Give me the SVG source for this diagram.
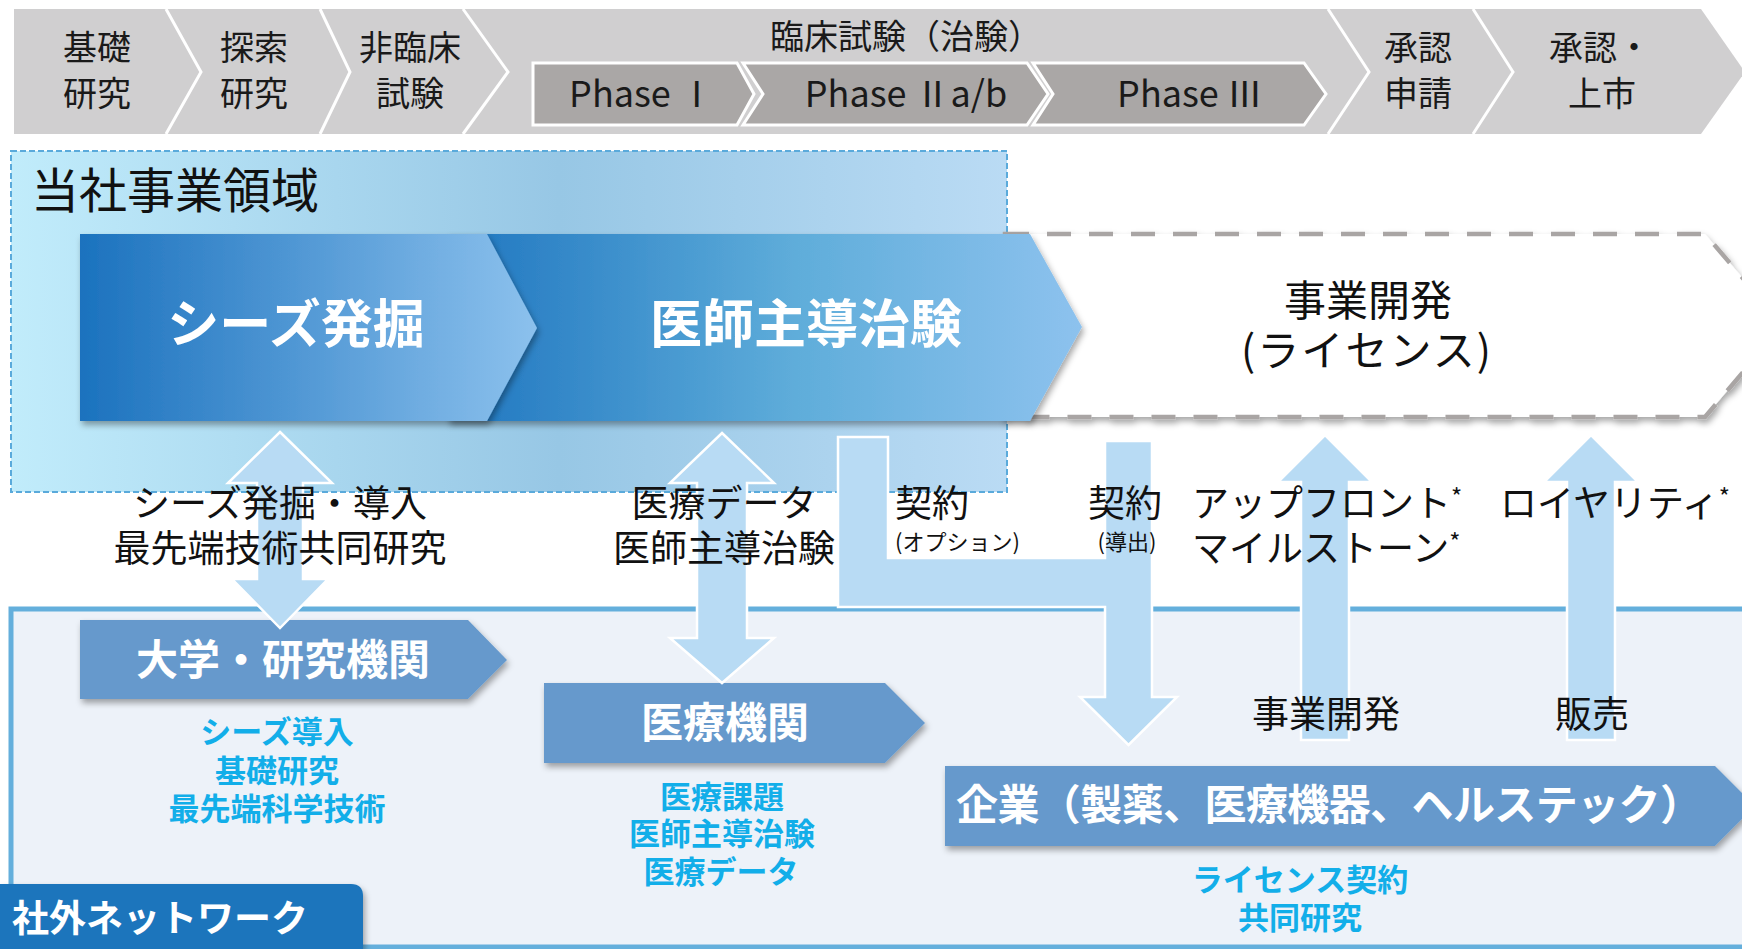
<svg xmlns="http://www.w3.org/2000/svg" width="1742" height="949" viewBox="0 0 1742 949">
<defs>
<style>
text{font-family:"Noto Sans CJK JP","Noto Sans",sans-serif;}
.bn{font-size:34px;fill:#1a1a1a;text-anchor:middle}
.ph{font-size:36px;fill:#1a1a1a;text-anchor:middle}
.phbox{fill:#aaa7a6;stroke:#fff;stroke-width:3}
.seam{fill:none;stroke:#fff;stroke-width:3}
.big{font-size:52px;font-weight:700;fill:#fff;text-anchor:middle}
.lbl{font-size:37px;fill:#111;text-anchor:middle}
.lbls{font-size:37px;fill:#111}
.sm{font-size:22px}
.node{fill:#6699cc}
.nt{font-size:42px;font-weight:700;fill:#fff;text-anchor:middle}
.cy{font-size:31px;font-weight:700;fill:#12aee9;text-anchor:middle}
.conn{fill:#b8dbf4;stroke:#fff;stroke-width:2.5}
</style>
<linearGradient id="gArea" x1="0" x2="1" y1="0" y2="0">
<stop offset="0" stop-color="#c1ecfb"/>
<stop offset="0.55" stop-color="#97c7e5"/>
<stop offset="1" stop-color="#badbf4"/>
</linearGradient>
<linearGradient id="gA1" x1="0" x2="1" y1="0" y2="0">
<stop offset="0" stop-color="#1b72be"/>
<stop offset="1" stop-color="#8cc1ed"/>
</linearGradient>
<linearGradient id="gA2" x1="0" x2="1" y1="0" y2="0">
<stop offset="0" stop-color="#1f76c0"/>
<stop offset="0.55" stop-color="#5fadda"/>
<stop offset="1" stop-color="#8dc2ee"/>
</linearGradient>
<filter id="sh" x="-5%" y="-10%" width="110%" height="135%">
<feDropShadow dx="2" dy="4" stdDeviation="3" flood-color="#000" flood-opacity="0.35"/>
</filter>
</defs>
<rect width="1742" height="949" fill="#fff"/>

<g id="banner">
<polygon points="14,9 1701,9 1745,72 1701,134 14,134" fill="#d0cfd0"/>
<polyline class="seam" points="166,9 201,72 166,134"/>
<polyline class="seam" points="320,9 350,72 320,134"/>
<polyline class="seam" points="463,9 508,72 463,134"/>
<polyline class="seam" points="1328,9 1369,72 1328,134"/>
<polyline class="seam" points="1473,9 1513,72 1473,134"/>
<text class="bn" x="97" y="60">基礎</text><text class="bn" x="97" y="106">研究</text>
<text class="bn" x="254" y="60">探索</text><text class="bn" x="254" y="106">研究</text>
<text class="bn" x="410" y="60">非臨床</text><text class="bn" x="410" y="106">試験</text>
<text class="bn" x="906" y="49">臨床試験（治験）</text>
<text class="bn" x="1418" y="60">承認</text><text class="bn" x="1418" y="106">申請</text>
<text class="bn" x="1600" y="60">承認・</text><text class="bn" x="1602" y="106">上市</text>
</g>
<g id="phase1">
<polygon class="phbox" points="533,63 737,63 754,94 737,125 533,125"/>
<text class="ph" x="642" y="107">Phase Ⅰ</text>
</g>
<g id="phase2">
<polygon class="phbox" points="743,63 1027,63 1048,94 1027,125 743,125 763,94"/>
<text class="ph" x="906" y="107">Phase Ⅱa/b</text>
</g>
<g id="phase3">
<polygon class="phbox" points="1033,63 1304,63 1326,94 1304,125 1033,125 1053,94"/>
<text class="ph" x="1190" y="107">Phase Ⅲ</text>
</g>

<g id="own-area">
<rect x="11" y="151" width="996" height="341" fill="url(#gArea)" stroke="#5aaadb" stroke-width="2" stroke-dasharray="6 3"/>
<text x="31" y="208" font-size="48" fill="#111">当社事業領域</text>
</g>

<g id="external-network">
<rect x="11" y="609" width="1740" height="338" fill="#edf2f9" stroke="#64afdc" stroke-width="5"/>
</g>

<g id="business-dev">
<polygon points="1005,234 1705,234 1783,325 1705,417 1005,417" fill="#fff" stroke="#a9a5a4" stroke-width="4.5" stroke-dasharray="24 18" filter="url(#sh)"/>
<text x="1368" y="316" font-size="42" fill="#111" text-anchor="middle">事業開発</text>
<text x="1366" y="366" font-size="42" fill="#111" text-anchor="middle" textLength="250" lengthAdjust="spacing">(ライセンス)</text>
</g>
<g id="doctor-trial">
<polygon points="448,234 1030,234 1082,327 1030,421 448,421" fill="url(#gA2)" filter="url(#sh)"/>
<text class="big" x="806" y="343">医師主導治験</text>
</g>
<g id="seeds">
<polygon points="80,234 487,234 537,328 487,421 80,421" fill="url(#gA1)" filter="url(#sh)"/>
<text class="big" x="296" y="343">シーズ発掘</text>
</g>

<g id="university">
<polygon class="node" points="80,620 468,620 507,660 468,699 80,699" filter="url(#sh)"/>
<text class="nt" x="283" y="675">大学・研究機関</text>
<text class="cy" x="277" y="743">シーズ導入</text>
<text class="cy" x="277" y="782">基礎研究</text>
<text class="cy" x="277" y="820">最先端科学技術</text>
</g>
<g id="medical">
<polygon class="node" points="544,683 885,683 925,723 885,763 544,763" filter="url(#sh)"/>
<text class="nt" x="725" y="738">医療機関</text>
<text class="cy" x="722" y="808">医療課題</text>
<text class="cy" x="722" y="845">医師主導治験</text>
<text class="cy" x="721" y="883">医療データ</text>
</g>
<g id="company">
<polygon class="node" points="945,766 1715,766 1755,806 1715,846 945,846" filter="url(#sh)"/>
<text x="956" y="820" font-size="42" font-weight="700" fill="#fff" textLength="746" lengthAdjust="spacing">企業（製薬、医療機器、ヘルステック）</text>
<text class="cy" x="1300" y="891">ライセンス契約</text>
<text class="cy" x="1300" y="929">共同研究</text>
</g>
<g id="network-tab">
<path d="M0,884 H351 Q363,884 363,896 V949 H0 Z" fill="#1b75bc" filter="url(#sh)"/>
<text x="12" y="932" font-size="37" font-weight="700" fill="#fff">社外ネットワーク</text>
</g>

<g id="connectors">
<path class="conn" d="M280,432 L332,483 H303 V579 H328 L280,628 L232,579 H257 V483 H228 Z"/>
<path class="conn" d="M722,433 L774,483 H747 V638 H774 L722,683 L670,638 H697 V483 H670 Z"/>
<path class="conn" d="M838,437 H888 V558 H1105 V441 H1152 V697 H1177 L1128.5,745 L1080,697 H1105 V607 H838 Z"/>
<path class="conn" d="M1325,435 L1372,482 H1349 V740 H1301 V482 H1278 Z"/>
<path class="conn" d="M1591,435 L1638,482 H1615 V740 H1567 V482 H1544 Z"/>
</g>
<g id="connector-labels">
<text class="lbl" x="280" y="517">シーズ発掘・導入</text>
<text class="lbl" x="280" y="562">最先端技術共同研究</text>
<text class="lbl" x="724" y="517">医療データ</text>
<text class="lbl" x="724" y="562">医師主導治験</text>
<text class="lbls" x="895" y="517">契約</text>
<text class="lbls sm" x="895" y="550">(オプション)</text>
<text class="lbl" x="1125" y="517">契約</text>
<text class="lbl sm" x="1127" y="550">(導出)</text>
<text class="lbls" x="1192" y="517">アップフロント<tspan font-size="24" dy="-11">*</tspan></text>
<text class="lbls" x="1192" y="562">マイルストーン<tspan font-size="24" dy="-11">*</tspan></text>
<text class="lbls" x="1500" y="517">ロイヤリティ<tspan font-size="24" dy="-11">*</tspan></text>
<text class="lbl" x="1326" y="728">事業開発</text>
<text class="lbl" x="1592" y="728">販売</text>
</g>
</svg>
